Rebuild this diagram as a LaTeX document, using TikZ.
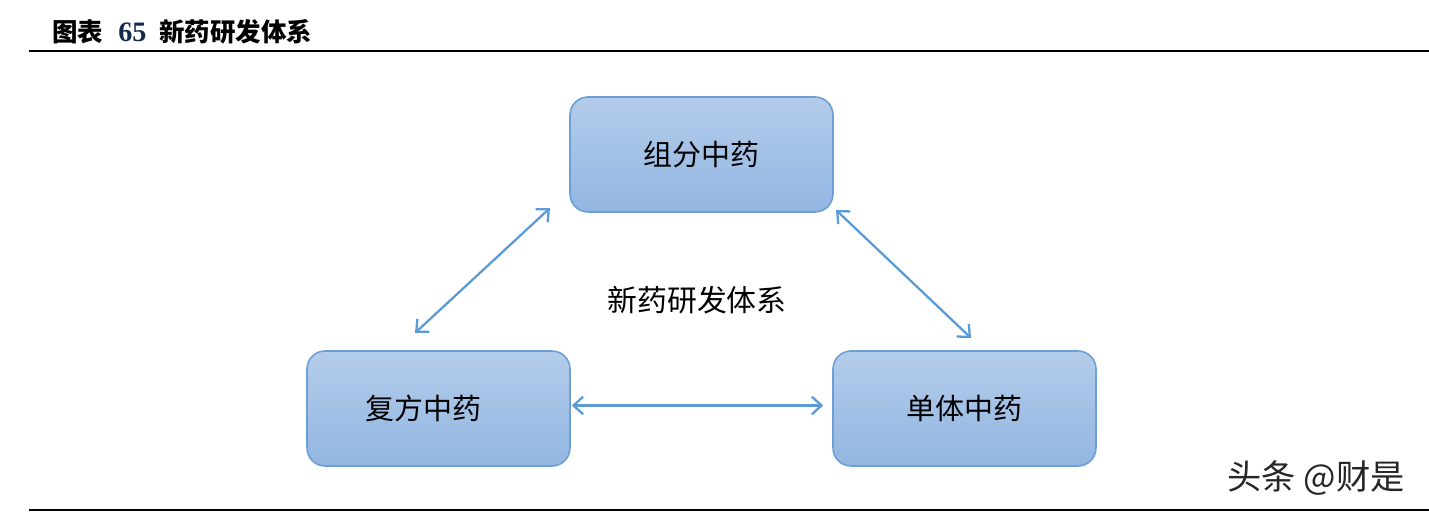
\documentclass[tikz,border=0pt]{standalone}
\usepackage{xcolor}
\usepackage{tikz}
\usepackage{fontspec}
\setmainfont{Liberation Serif}
\newfontfamily\cjk{Noto Sans CJK SC}
\usetikzlibrary{shapes,arrows,positioning,calc,arrows.meta}

\definecolor{boxtop}{RGB}{180,204,234}
\definecolor{boxbot}{RGB}{146,182,226}
\definecolor{boxline}{RGB}{108,160,213}
\definecolor{arrowblue}{RGB}{91,155,213}

\tikzset{
    box/.style={draw=boxline, line width=0.9pt, rounded corners=0.36cm,
        top color=boxtop, bottom color=boxbot,
        minimum width=5.26cm, minimum height=2.30cm, inner sep=0pt,
        font=\cjk\fontsize{16.5}{20}\selectfont},
    link/.style={draw=arrowblue, line width=1.3pt,
        {Straight Barb[length=5.5pt,width=10pt]}-{Straight Barb[length=5.5pt,width=10pt]}}
}

\begin{document}
\begin{tikzpicture}[x=0.02cm, y=0.02cm]
    \useasboundingbox (0,0) rectangle (1429,513);

    % Title and rules
    \node[anchor=west, inner sep=0pt] (title) at (52,481)
        {\cjk\fontsize{14.5}{16}\selectfont\bfseries 图表\hspace{0.3cm}\textbf{\color[RGB]{20,40,80}\rmfamily\fontsize{16}{16}\selectfont 65}\hspace{0.26cm}新药研发体系};
    \coordinate (rule1a) at (29,462);
    \coordinate (rule1b) at (1429,462);
    \draw[line width=1.2pt] (rule1a) -- (rule1b);
    \coordinate (rule2a) at (29,3);
    \coordinate (rule2b) at (1429,3);
    \draw[line width=1.2pt] (rule2a) -- (rule2b);

    % Boxes
    \node[box] (zufen) at (701.5,358.5) {组分中药};
    \node[box] (fufang) at (438.5,104.5) {\hspace*{-0.6cm}复方中药};
    \node[box] (danti) at (964.5,104.5) {单体中药};

    % Centre text
    \node[font=\cjk\fontsize{17}{20}\selectfont] (system) at (697,213) {新药研发体系};

    % Double arrows
    \coordinate (l1) at (550,305);
    \coordinate (l2) at (415,180);
    \coordinate (r1) at (836,303);
    \coordinate (r2) at (971,175);
    \draw[link] (l1) -- (l2);
    \draw[link] (r1) -- (r2);
    \draw[link] ([xshift=0.02cm,yshift=0.06cm]fufang.east) -- ([xshift=-0.18cm,yshift=0.06cm]danti.west);

    % Watermark
    \node[anchor=east, font=\cjk\fontsize{19.5}{22}\selectfont, text=black!85] (mark) at (1411,35) {头条 @财是};
\end{tikzpicture}
\end{document}
